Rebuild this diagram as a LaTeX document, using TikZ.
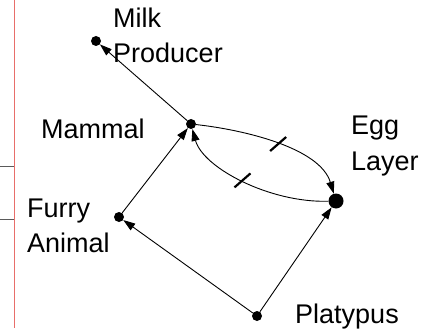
\documentclass[tikz,border=0pt]{standalone}
\usepackage{fontspec}
\setmainfont{Liberation Sans}
\usetikzlibrary{arrows.meta}
\definecolor{redrule}{RGB}{232,110,106}
\definecolor{grayrule}{RGB}{90,90,90}
\begin{document}
\begin{tikzpicture}[x=1pt,y=-1pt,
  dot/.style={circle,fill=black,inner sep=0pt,minimum size=10pt},
  bigdot/.style={circle,fill=black,inner sep=0pt,minimum size=15pt},
  lbl/.style={inner sep=0pt,font=\fontsize{27}{35}\selectfont,anchor=base west},
  conn/.style={line width=0.9pt,-{Triangle[length=12pt,width=8pt]}},
  tickmark/.style={line width=2.2pt},
  redline/.style={draw=redrule,line width=1pt},
  grayline/.style={draw=grayrule,line width=1pt}]
\useasboundingbox (0,0) rectangle (443,331);
% margin rules
\draw[redline] (14.5,0) -- (14.5,328);
\draw[grayline] (0,166) -- (14,166);
\draw[grayline] (0,219) -- (14,219);
% points
\node[dot] (milk) at (96,41) {};
\node[dot] (mammal) at (191,124) {};
\node[bigdot] (egg) at (336,201) {};
\node[dot] (furry) at (119,217) {};
\node[dot] (platypus) at (257,316) {};
% labels
\node[lbl] (tmilk) at (113,28) {\begin{tabular}[t]{@{}l@{}}Milk\\Producer\end{tabular}};
\node[lbl] (tmammal) at (41,138) {Mammal};
\node[lbl] (tegg) at (351,135) {\begin{tabular}[t]{@{}l@{}}Egg\\Layer\end{tabular}};
\node[lbl] (tfurry) at (27,217) {\begin{tabular}[t]{@{}l@{}}Furry\\Animal\end{tabular}};
\node[lbl] (tplat) at (295,323) {Platypus};
% connectors
\draw[conn] (mammal) -- (milk);
\draw[conn] (furry) -- (mammal);
\draw[conn] (platypus) -- (furry);
\draw[conn] (platypus) -- (egg);
\draw[conn] (mammal) .. controls (245,130) and (320,148) .. (egg) coordinate[pos=0.5] (m1);
\draw[conn] (egg) .. controls (270,203) and (203,168) .. (mammal) coordinate[pos=0.5] (m2);
\draw[tickmark] ([shift={(-8,7)}]m1) -- ([shift={(8,-7)}]m1);
\draw[tickmark] ([shift={(-8,7)}]m2) -- ([shift={(8,-7)}]m2);
\end{tikzpicture}
\end{document}
